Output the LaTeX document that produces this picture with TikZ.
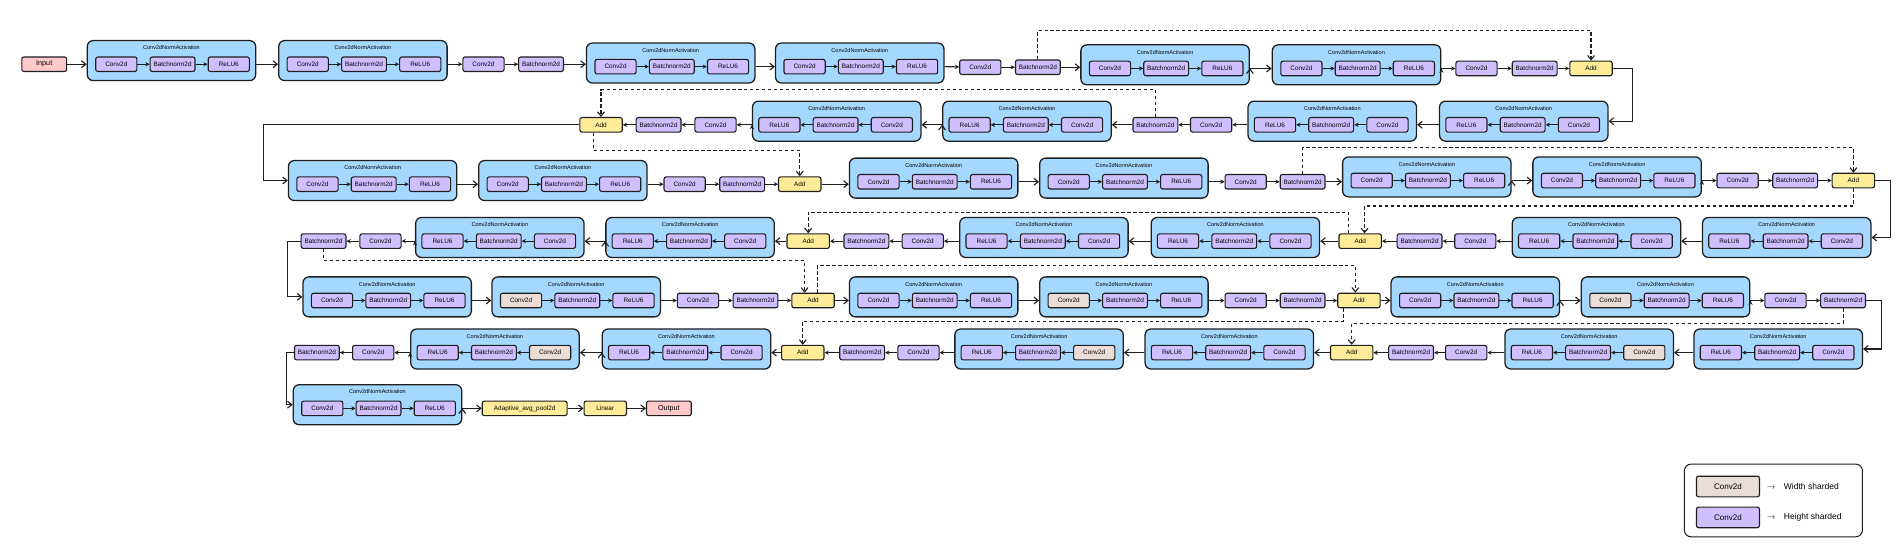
\documentclass[tikz,border=0pt]{standalone}
\usepackage{fontspec}
\setmainfont{Liberation Sans}
\usetikzlibrary{arrows.meta}
\usetikzlibrary{positioning}

\definecolor{cnablue}{HTML}{A5D8FF}
\definecolor{hpurple}{HTML}{D0BFFF}
\definecolor{wbeige}{HTML}{EADDD7}
\definecolor{addyel}{HTML}{FFEC99}
\definecolor{iopink}{HTML}{FFC9C9}
\definecolor{linec}{HTML}{1E1E1E}

\tikzset{
  opbox/.style={draw=linec,line width=1.3pt,rounded corners=2.5pt,fill=hpurple,
    minimum width=1.7cm,minimum height=0.6cm,inner sep=1pt,
    font=\fontsize{7.5}{8}\selectfont},
  wbox/.style={opbox,fill=wbeige},
  bnbox/.style={opbox,minimum width=1.85cm},
  addbox/.style={opbox,fill=addyel,minimum width=1.75cm},
  iobox/.style={opbox,fill=iopink,minimum width=1.85cm,font=\fontsize{8.5}{9}\selectfont},
  cnabox/.style={draw=linec,line width=1.5pt,rounded corners=7pt,fill=cnablue,
    minimum width=6.95cm,minimum height=1.65cm},
  cnatitle/.style={font=\fontsize{6.5}{7}\selectfont,inner sep=0pt},
  flowarrow/.style={draw=linec,line width=1.3pt,-{Straight Barb[length=5pt,width=8pt]}},
  inarrow/.style={draw=linec,line width=1.3pt,-{Stealth[length=5pt,width=5pt]}},
  skipline/.style={draw=linec,line width=1.3pt,dash pattern=on 4pt off 3pt,
    -{Straight Barb[length=5pt,width=8pt]}},
  legtext/.style={anchor=west,font=\fontsize{10}{12}\selectfont,inner sep=0pt},
}

% Conv2dNormActivation block, flowing right or left
% #1 name, #2 left edge, #3 row line, #4 style of its Conv2d
\newcommand{\cnaright}[4]{%
  \node[cnabox] (#1) at ({#2+69.5},{#3-3}) {};
  \node[cnatitle] (#1t) at ({#2+69.5},{#3-13.5}) {Conv2dNormActivation};
  \node[#4] (#1c) at ({#2+24},#3) {Conv2d};
  \node[bnbox,right=0.5cm of #1c] (#1n) {Batchnorm2d};
  \node[opbox,right=0.5cm of #1n] (#1r) {ReLU6};
  \path[inarrow] (#1c) edge (#1n) (#1n) edge (#1r);
}
\newcommand{\cnaleft}[4]{%
  \node[cnabox] (#1) at ({#2+69.5},{#3-3}) {};
  \node[cnatitle] (#1t) at ({#2+69.5},{#3-13.5}) {Conv2dNormActivation};
  \node[#4] (#1c) at ({#2+115},#3) {Conv2d};
  \node[bnbox,left=0.5cm of #1c] (#1n) {Batchnorm2d};
  \node[opbox,left=0.5cm of #1n] (#1r) {ReLU6};
  \path[inarrow] (#1c) edge (#1n) (#1n) edge (#1r);
}

\begin{document}
\begin{tikzpicture}[x=0.05cm,y=-0.05cm]
\fill[white] (0,0) rectangle (1568,450);
\useasboundingbox (0,0) rectangle (1568,450);

% row 1
\node[iobox] (inp) at (36.5,53) {Input};
\cnaright{b1}{72}{53}{opbox}
\cnaright{b2}{230}{53}{opbox}
\node[opbox] (c1) at (399,53) {Conv2d};
\node[bnbox] (n1) at (446.5,53) {Batchnorm2d};
\cnaright{b3}{484}{55}{opbox}
\cnaright{b4}{640}{55}{opbox}
\node[opbox] (c2) at (809,55.5) {Conv2d};
\node[bnbox] (n2) at (856.5,55.5) {Batchnorm2d};
\cnaright{b5}{892}{56.5}{opbox}
\cnaright{b6}{1050}{56.5}{opbox}
\node[opbox] (c3) at (1218.5,56.5) {Conv2d};
\node[bnbox] (n3) at (1266.5,56.5) {Batchnorm2d};
\node[addbox] (add1) at (1313,56.5) {Add};

\path[flowarrow]
  (inp) edge (inp -| b1.west)
  (b1.east |- b1c) edge (b2.west |- b1c)
  (n1) edge (n1 -| b3.west)
  (b3.east |- b3c) edge (b4.west |- b3c)
  (n2) edge (n2 -| b5.west)
  (b5.east |- b5c) edge (b6.west |- b5c);
\path[inarrow]
  (b2.east |- b2c) edge (c1)
  (c1) edge (n1)
  (b4.east |- b4c) edge (c2)
  (c2) edge (n2)
  (b6.east |- b6c) edge (c3)
  (c3) edge (n3)
  (n3) edge (add1);

% row 2
\cnaleft{b7}{1188}{103}{opbox}
\cnaleft{b8}{1030}{103}{opbox}
\node[opbox] (c4) at (999.5,103) {Conv2d};
\node[bnbox] (n4) at (953.5,103) {Batchnorm2d};
\cnaleft{b9}{778}{103}{opbox}
\cnaleft{b10}{621}{103}{opbox}
\node[opbox] (c5) at (590.5,103) {Conv2d};
\node[bnbox] (n5) at (543.5,103) {Batchnorm2d};
\node[addbox] (add2) at (496,103) {Add};

\draw[flowarrow] (add1.east) -- ++(16,0) |- (b7.east);
\path[flowarrow]
  (b7.west |- b7c) edge (b8.east |- b7c)
  (n4) edge (n4 -| b9.east)
  (b9.west |- b9c) edge (b10.east |- b9c);
\path[inarrow]
  (b8.west |- b8c) edge (c4)
  (c4) edge (n4)
  (b10.west |- b10c) edge (c5)
  (c5) edge (n5)
  (n5) edge (add2);

% row 3
\cnaright{b11}{238}{152}{opbox}
\cnaright{b12}{395}{152}{opbox}
\node[opbox] (c6) at (565,152) {Conv2d};
\node[bnbox] (n6) at (612.5,152) {Batchnorm2d};
\node[addbox] (add3) at (660,152) {Add};
\cnaright{b13}{701}{150}{opbox}
\cnaright{b14}{858}{150}{opbox}
\node[opbox] (c7) at (1028,150) {Conv2d};
\node[bnbox] (n7) at (1075,150) {Batchnorm2d};
\cnaright{b15}{1108}{149}{opbox}
\cnaright{b16}{1265}{149}{opbox}
\node[opbox] (c8) at (1434,149) {Conv2d};
\node[bnbox] (n8) at (1481.5,149) {Batchnorm2d};
\node[addbox] (add4) at (1529.5,149) {Add};

\draw[flowarrow] (add2.west) -- ++(-260.5,0) |- (b11.west);
\path[flowarrow]
  (b11.east |- b11c) edge (b12.west |- b11c)
  (add3) edge (add3 -| b13.west)
  (b13.east |- b13c) edge (b14.west |- b13c)
  (n7) edge (n7 -| b15.west)
  (b15.east |- b15c) edge (b16.west |- b15c);
\path[inarrow]
  (b12.east |- b12c) edge (c6)
  (c6) edge (n6)
  (n6) edge (add3)
  (b14.east |- b14c) edge (c7)
  (c7) edge (n7)
  (b16.east |- b16c) edge (c8)
  (c8) edge (n8)
  (n8) edge (add4);

% row 4
\cnaleft{b17}{1405}{199}{opbox}
\cnaleft{b18}{1248}{199}{opbox}
\node[opbox] (c9) at (1217.5,199) {Conv2d};
\node[bnbox] (n9) at (1171.5,199) {Batchnorm2d};
\node[addbox] (add5) at (1122.5,199) {Add};
\cnaleft{b19}{950}{199}{opbox}
\cnaleft{b20}{792}{199}{opbox}
\node[opbox] (c10) at (761.5,199) {Conv2d};
\node[bnbox] (n10) at (715,199) {Batchnorm2d};
\node[addbox] (add6) at (667,199) {Add};
\cnaleft{b21}{500}{199}{opbox}
\cnaleft{b22}{343}{199}{opbox}
\node[opbox] (c11) at (314,199) {Conv2d};
\node[bnbox] (n11) at (267,199) {Batchnorm2d};

\draw[flowarrow] (add4.east) -- ++(13,0) |- (b17.east);
\path[flowarrow]
  (b17.west |- b17c) edge (b18.east |- b17c)
  (add5) edge (add5 -| b19.east)
  (b19.west |- b19c) edge (b20.east |- b19c)
  (add6) edge (add6 -| b21.east)
  (b21.west |- b21c) edge (b22.east |- b21c);
\path[inarrow]
  (b18.west |- b18c) edge (c9)
  (c9) edge (n9)
  (n9) edge (add5)
  (b20.west |- b20c) edge (c10)
  (c10) edge (n10)
  (n10) edge (add6)
  (b22.west |- b22c) edge (c11)
  (c11) edge (n11);

% row 5
\cnaright{b23}{250}{248}{opbox}
\cnaright{b24}{406}{248}{wbox}
\node[opbox] (c12) at (576,248) {Conv2d};
\node[bnbox] (n12) at (623.5,248) {Batchnorm2d};
\node[addbox] (add7) at (671,248) {Add};
\cnaright{b25}{701}{248}{opbox}
\cnaright{b26}{858}{248}{wbox}
\node[opbox] (c13) at (1028,248) {Conv2d};
\node[bnbox] (n13) at (1075,248) {Batchnorm2d};
\node[addbox] (add8) at (1121.5,248) {Add};
\cnaright{b27}{1148}{248}{opbox}
\cnaright{b28}{1305}{248}{wbox}
\node[opbox] (c14) at (1473.5,248) {Conv2d};
\node[bnbox] (n14) at (1521,248) {Batchnorm2d};

\draw[flowarrow] (n11.west) -- ++(-11,0) |- (b23.west);
\path[flowarrow]
  (b23.east |- b23c) edge (b24.west |- b23c)
  (add7) edge (add7 -| b25.west)
  (b25.east |- b25c) edge (b26.west |- b25c)
  (add8) edge (add8 -| b27.west)
  (b27.east |- b27c) edge (b28.west |- b27c);
\path[inarrow]
  (b24.east |- b24c) edge (c12)
  (c12) edge (n12)
  (n12) edge (add7)
  (b26.east |- b26c) edge (c13)
  (c13) edge (n13)
  (n13) edge (add8)
  (b28.east |- b28c) edge (c14)
  (c14) edge (n14);

% row 6
\cnaleft{b29}{1398}{291}{opbox}
\cnaleft{b30}{1242}{291}{wbox}
\node[opbox] (c15) at (1210,291) {Conv2d};
\node[bnbox] (n15) at (1164.5,291) {Batchnorm2d};
\node[addbox] (add9) at (1115.5,291) {Add};
\cnaleft{b31}{945}{291}{opbox}
\cnaleft{b32}{788}{291}{wbox}
\node[opbox] (c16) at (758,291) {Conv2d};
\node[bnbox] (n16) at (711.5,291) {Batchnorm2d};
\node[addbox] (add10) at (662.5,291) {Add};
\cnaleft{b33}{497}{291}{opbox}
\cnaleft{b34}{339}{291}{wbox}
\node[opbox] (c17) at (308,291) {Conv2d};
\node[bnbox] (n17) at (261.5,291) {Batchnorm2d};

\draw[flowarrow] (n14.east) -- ++(13,0) |- (b29.east);
\path[flowarrow]
  (b29.west |- b29c) edge (b30.east |- b29c)
  (add9) edge (add9 -| b31.east)
  (b31.west |- b31c) edge (b32.east |- b31c)
  (add10) edge (add10 -| b33.east)
  (b33.west |- b33c) edge (b34.east |- b33c);
\path[inarrow]
  (b30.west |- b30c) edge (c15)
  (c15) edge (n15)
  (n15) edge (add9)
  (b32.west |- b32c) edge (c16)
  (c16) edge (n16)
  (n16) edge (add10)
  (b34.west |- b34c) edge (c17)
  (c17) edge (n17);

% row 7
\cnaright{b35}{242}{337}{opbox}
\node[addbox,minimum width=3.5cm] (pool) at (433,337) {Adaptive\_avg\_pool2d};
\node[addbox] (lin) at (499.5,337) {Linear};
\node[iobox] (outp) at (552,337) {Output};

\draw[flowarrow] (n17.west) -- ++(-6,0) |- (b35.west);
\path[flowarrow]
  (b35.east |- b35c) edge (pool)
  (pool) edge (lin)
  (lin) edge (outp);

% skip connections
\coordinate (a5in) at ([xshift=0.18cm]add5.north);
\coordinate (a5out) at ([xshift=-0.5cm]add5.north);
\coordinate (a7in) at ([xshift=-0.35cm]add7.north);
\coordinate (a7out) at ([xshift=0.2cm]add7.north);
\coordinate (a8in) at ([xshift=-0.15cm]add8.north);
\coordinate (a8out) at ([xshift=-0.65cm]add8.south);
\draw[skipline] (n2.north) |- (add1 |- 0,25) -- (add1.north);
\draw[skipline] (n4.north) |- (add2 |- 0,74) -- (add2.north);
\draw[skipline] ([xshift=-0.3cm]add2.south) |- (add3 |- 0,124) -- (add3.north);
\draw[skipline] (n7.north) |- (add4 |- 0,122) -- (add4.north);
\draw[skipline] (add4.south) |- (a5in |- 0,170) -- (a5in);
\draw[skipline] (a5out) |- (add6 |- 0,175) -- (add6.north);
\draw[skipline] (n11.south) |- (a7in |- 0,215) -- (a7in);
\draw[skipline] (a7out) |- (a8in |- 0,219) -- (a8in);
\draw[skipline] (a8out) |- (add10 |- 0,265) -- (add10.north);
\draw[skipline] (n14.south) |- (add9 |- 0,267) -- (add9.north);

% legend
\node[draw=linec,line width=1.2pt,rounded corners=8pt,minimum width=7.35cm,minimum height=3cm] (legend) at (1463.5,413) {};
\node[wbox,minimum width=2.6cm,minimum height=0.85cm,font=\fontsize{9.5}{11}\selectfont] (legw) at (1426,401.5) {Conv2d};
\node[opbox,minimum width=2.6cm,minimum height=0.85cm,font=\fontsize{9.5}{11}\selectfont] (legh) at (1426,427) {Conv2d};
\node[legtext] (legwt) at (1458,401.5) {$\rightarrow$\hspace{0.35cm}Width sharded};
\node[legtext] (leght) at (1458,427) {$\rightarrow$\hspace{0.35cm}Height sharded};
\end{tikzpicture}
\end{document}
